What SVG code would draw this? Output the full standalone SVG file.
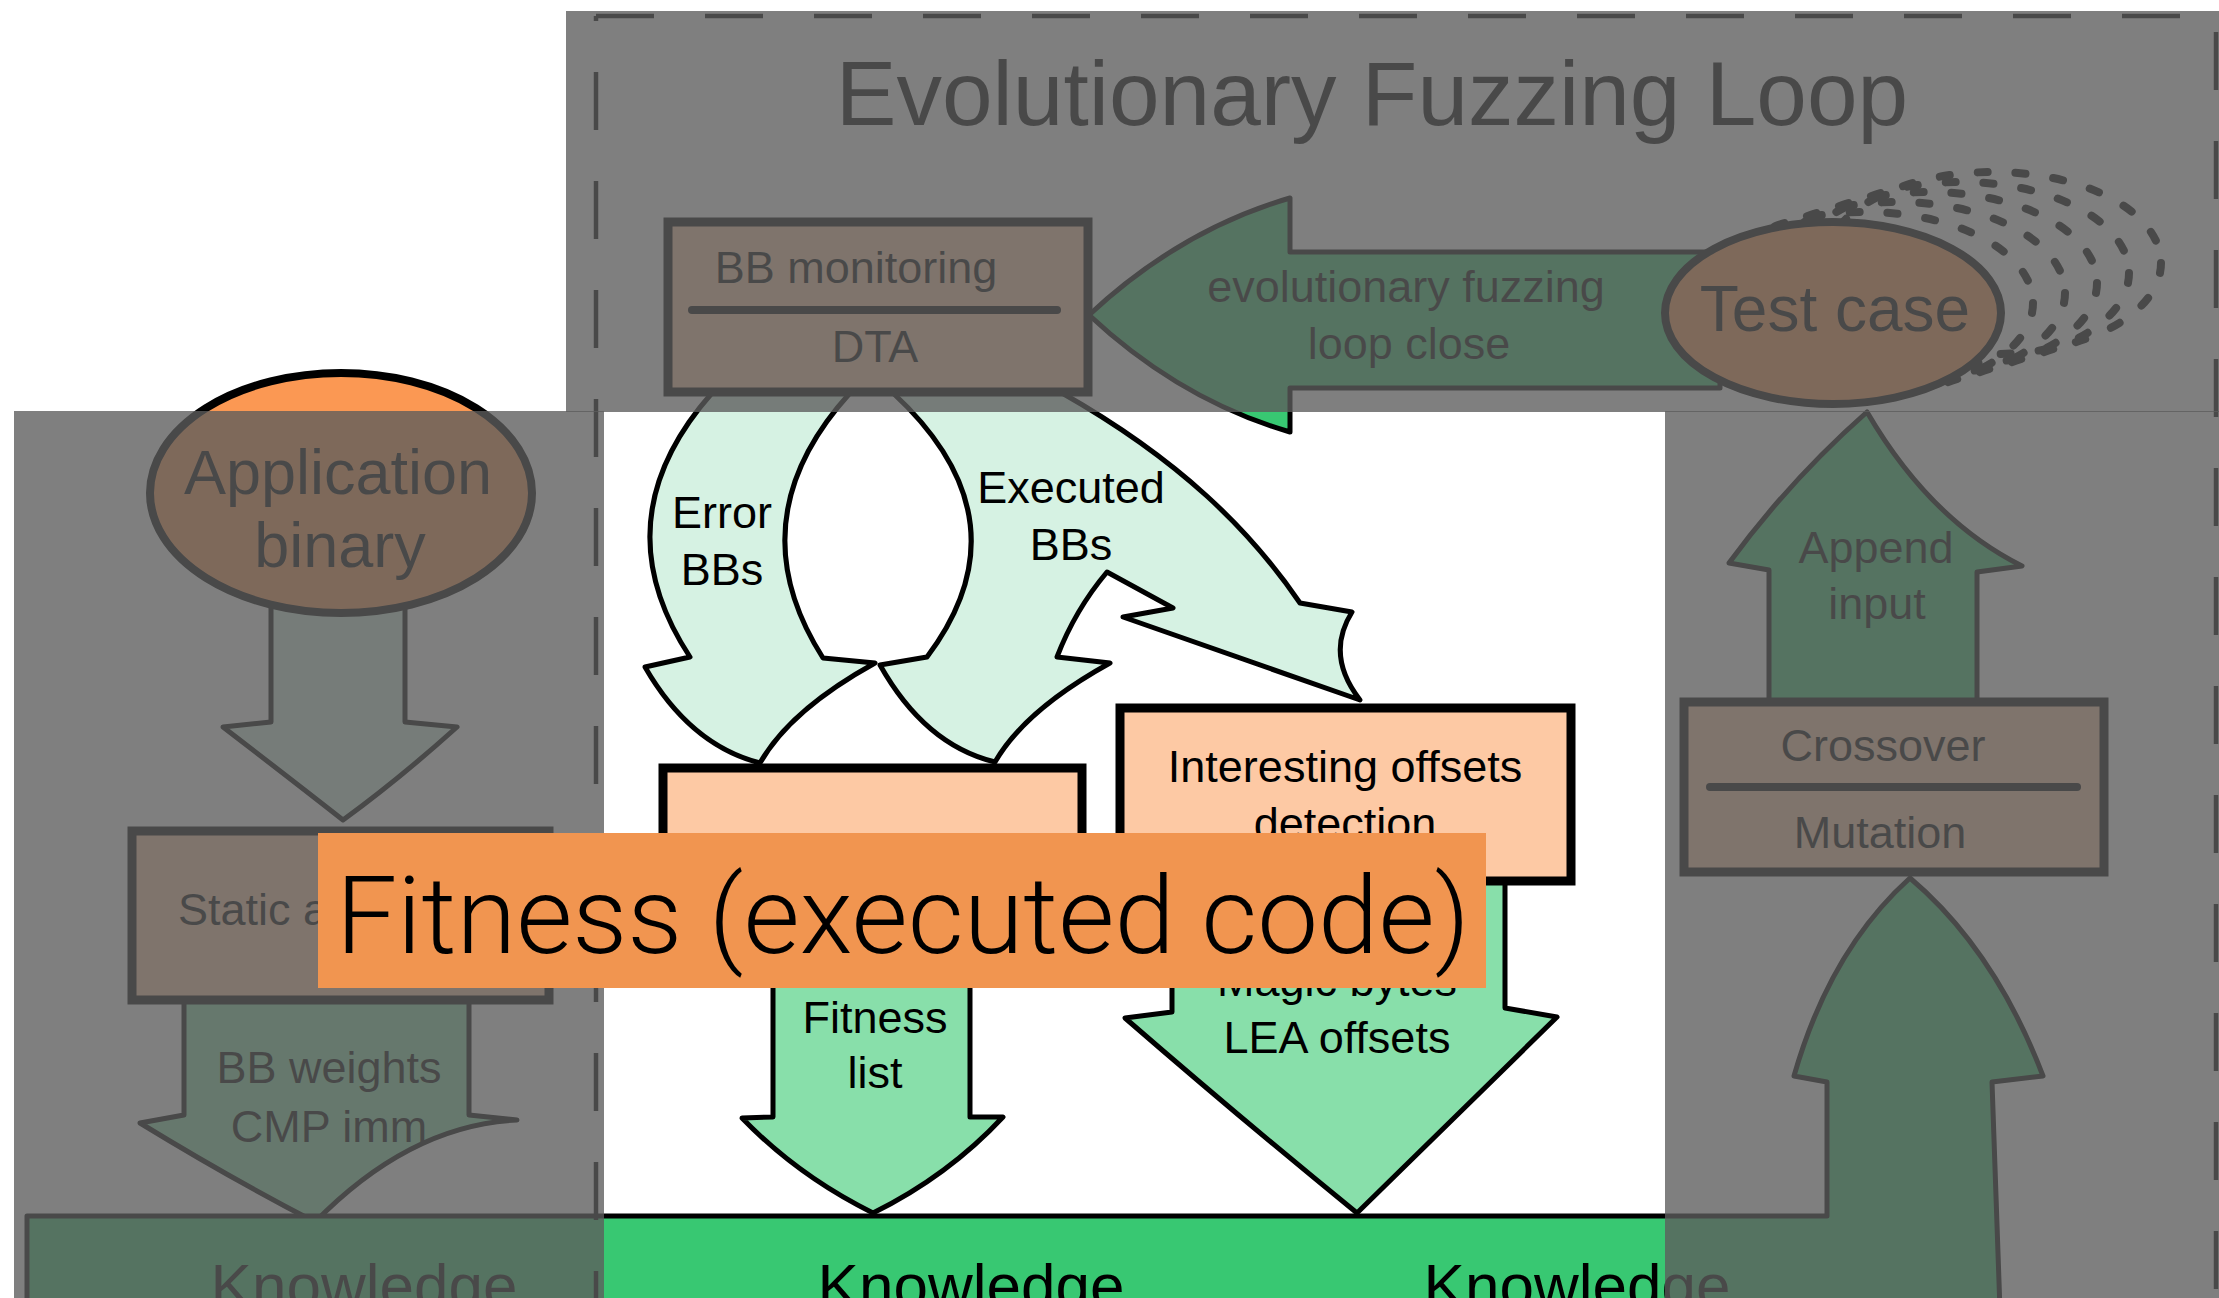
<svg xmlns="http://www.w3.org/2000/svg" width="2219" height="1298" viewBox="0 0 2219 1298">
<style>
.t{font-family:"Liberation Sans",Arial,sans-serif;fill:#000;text-anchor:middle}
.s45{font-size:45px}
.peach{fill:#fdc9a4;stroke:#000;stroke-width:9}
.orange{fill:#fb9853;stroke:#000;stroke-width:8}
.lg{fill:#d6f2e3;stroke:#000;stroke-width:5;stroke-linejoin:round}
.mg{fill:#88dfaa;stroke:#000;stroke-width:5;stroke-linejoin:round}
.bg{fill:#38c872;stroke:#000;stroke-width:5;stroke-linejoin:round}
.sep{stroke:#000;stroke-width:8;stroke-linecap:round}
.dash{stroke:#000;stroke-width:4.5;fill:none;stroke-dasharray:58 51}
.ghost{fill:none;stroke:#000;stroke-width:8;stroke-dasharray:10 28;stroke-linecap:round}
.dim{fill:#5d5d5d;fill-opacity:0.79}
</style>
<rect x="0" y="0" width="2219" height="1298" fill="#fff"/>

<g id="connectors">
  <path id="arrow-app-static" class="lg" d="M271,600 L271,722 L223,727 Q292,780 343,820 Q398,780 457,727 L405,722 L405,600 Z"/>
  <path id="arrow-bbweights" class="mg" d="M184,995 L184,1115 L140,1123 Q230,1178 315,1222 Q410,1125 517,1120 L469,1115 L469,995 Z"/>
  <path id="arrow-error" class="lg" d="M712,393 Q600,520 690,657 L645,667 Q690,745 760,763 Q790,710 875,663 L823,658 Q735,520 850,393 Z"/>
  <path id="arrow-executed" class="lg" d="M893,393 Q1030,520 927,657 L880,665 Q925,745 995,762 Q1025,710 1110,663 L1057,657 Q1075,610 1107,572 L1173,608 L1123,617 L1360,700 Q1325,655 1352,612 L1300,603 C1250,530 1180,460 1062,393 Z"/>
  <path id="arrow-fitness" class="mg" d="M773,930 L773,1117 L742,1118 Q798,1176 873,1213 Q948,1176 1003,1117 L970,1117 L970,930 Z"/>
  <path id="arrow-magic" class="mg" d="M1172,870 L1172,1012 L1125,1018 Q1245,1122 1357,1213 Q1462,1110 1557,1017 L1505,1008 L1505,870 Z"/>
  <path id="arrow-append" class="bg" d="M1769,710 L1769,570 L1729,563 Q1790,480 1867,412 Q1930,520 2022,566 L1977,572 L1977,710 Z"/>
  <path id="arrow-loop" class="bg" d="M1089,315 Q1180,230 1290,198 L1290,252 L1720,252 L1720,388 L1290,388 L1290,432 Q1180,400 1089,315 Z"/>
  <path id="arrow-knowledge" class="bg" d="M27,1216 L1827,1216 L1827,1082 L1794,1076 Q1830,950 1910,878 Q1995,950 2043,1076 L1992,1082 Q1996,1200 2000,1310 L27,1310 Z"/>
</g>

<g id="ghosts">
  <ellipse class="ghost" cx="1865" cy="303" rx="168" ry="91"/>
  <ellipse class="ghost" cx="1897" cy="293" rx="168" ry="91"/>
  <ellipse class="ghost" cx="1929" cy="283" rx="168" ry="91"/>
  <ellipse class="ghost" cx="1961" cy="273" rx="168" ry="91"/>
  <ellipse class="ghost" cx="1993" cy="263" rx="168" ry="91"/>
</g>

<g id="title">
  <text class="t" x="1372" y="125" font-size="91">Evolutionary Fuzzing Loop</text>
</g>

<g id="node-app-binary">
  <ellipse class="orange" cx="341" cy="493" rx="191" ry="120"/>
  <text class="t" x="338" y="494" font-size="63">Application</text>
  <text class="t" x="340" y="567" font-size="63">binary</text>
</g>

<g id="node-static">
  <rect class="peach" x="132" y="831" width="417" height="169"/>
  <text class="t s45" x="178" y="925" style="text-anchor:start">Static analysis</text>
</g>

<g id="node-bbmon">
  <rect class="peach" x="668" y="222" width="420" height="170"/>
  <text class="t s45" x="856" y="283">BB monitoring</text>
  <line class="sep" x1="692" y1="310" x2="1057" y2="310"/>
  <text class="t s45" x="875" y="362">DTA</text>
</g>

<g id="node-testcase">
  <ellipse class="orange" cx="1833" cy="313" rx="168" ry="91"/>
  <text class="t" x="1835" y="331" font-size="64">Test case</text>
</g>

<g id="node-fitness">
  <rect class="peach" x="663" y="768" width="419" height="170"/>
</g>

<g id="node-interesting">
  <rect class="peach" x="1120" y="708" width="451" height="173"/>
  <text class="t s45" x="1345" y="782">Interesting offsets</text>
  <text class="t s45" x="1345" y="839">detection</text>
</g>

<g id="node-crossover">
  <rect class="peach" x="1684" y="702" width="420" height="170"/>
  <text class="t s45" x="1883" y="761">Crossover</text>
  <line class="sep" x1="1710" y1="787" x2="2077" y2="787"/>
  <text class="t s45" x="1880" y="848">Mutation</text>
</g>

<g id="connector-labels">
  <text class="t s45" x="1406" y="302">evolutionary fuzzing</text>
  <text class="t s45" x="1409" y="359">loop close</text>
  <text class="t s45" x="722" y="528">Error</text>
  <text class="t s45" x="722" y="585">BBs</text>
  <text class="t s45" x="1071" y="503">Executed</text>
  <text class="t s45" x="1071" y="560">BBs</text>
  <text class="t s45" x="875" y="1033">Fitness</text>
  <text class="t s45" x="875" y="1088">list</text>
  <text class="t s45" x="1337" y="996">Magic bytes</text>
  <text class="t s45" x="1337" y="1053">LEA offsets</text>
  <text class="t s45" x="329" y="1083">BB weights</text>
  <text class="t s45" x="329" y="1142">CMP imm</text>
  <text class="t s45" x="1876" y="563">Append</text>
  <text class="t s45" x="1877" y="619">input</text>
  <text class="t" x="364" y="1307" font-size="62">Knowledge</text>
  <text class="t" x="971" y="1307" font-size="62">Knowledge</text>
  <text class="t" x="1577" y="1307" font-size="62">Knowledge</text>
</g>

<g id="loop-border">
  <line class="dash" x1="596" y1="16" x2="2216" y2="16"/>
  <line class="dash" x1="596" y1="16" x2="596" y2="1310" stroke-dashoffset="53"/>
  <line class="dash" x1="2216" y1="16" x2="2216" y2="1310" stroke-dashoffset="93"/>
</g>

<g id="overlay">
  <rect class="dim" x="566" y="11" width="1653" height="401"/>
  <rect class="dim" x="14" y="411" width="590" height="887"/>
  <rect class="dim" x="1665" y="411" width="554" height="887"/>
</g>

<g id="highlight-label">
  <rect x="318" y="833" width="1168" height="155" fill="#f19550"/>
  <text x="336" y="953" font-family="Roboto, Lato, 'Liberation Sans', sans-serif" font-weight="300" font-size="108" fill="#000" textLength="1134" lengthAdjust="spacingAndGlyphs">Fitness (executed code)</text>
</g>
</svg>
